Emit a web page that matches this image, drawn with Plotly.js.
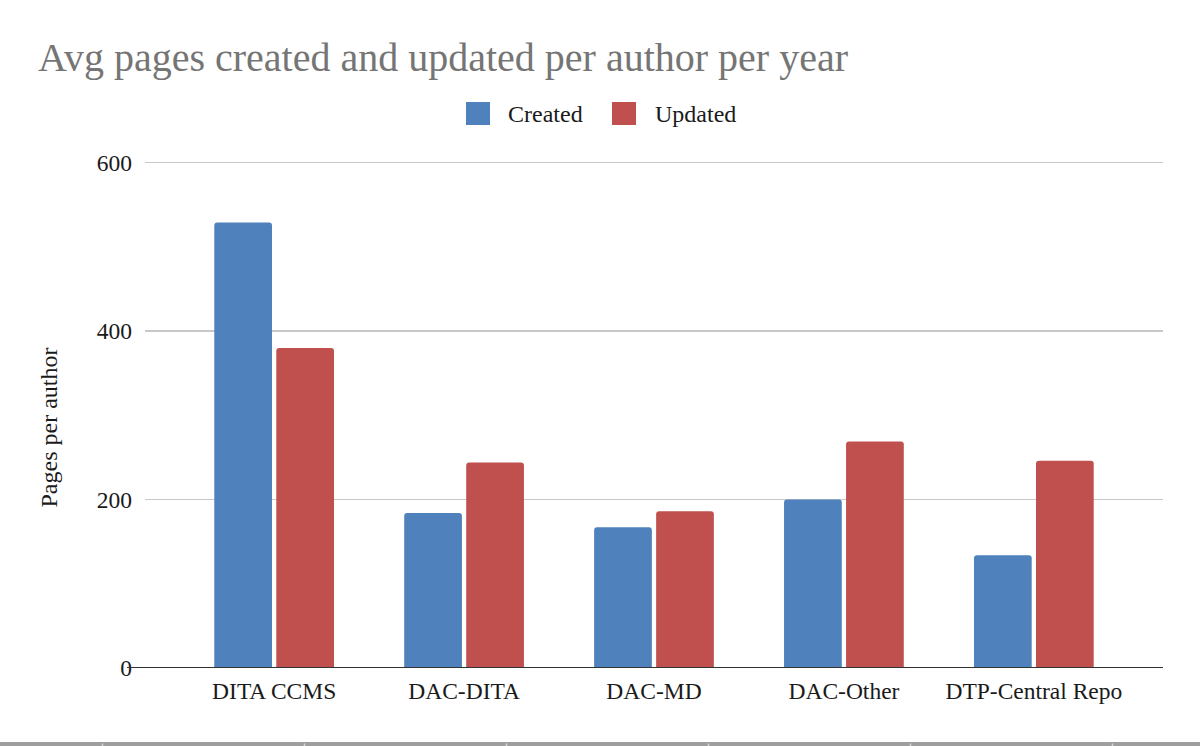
<!DOCTYPE html>
<html>
<head>
<meta charset="utf-8">
<script src="https://cdn.plot.ly/plotly-3.0.1.min.js"></script>
<style>
  html, body { margin: 0; padding: 0; background: #ffffff; }
  #chart { width: 1200px; height: 746px; }
</style>
</head>
<body>
<div id="chart"></div>
<script>
// ---- data ----
const categories = ["DITA CCMS", "DAC-DITA", "DAC-MD", "DAC-Other", "DTP-Central Repo"];
const createdValues = [529, 184, 167, 200, 134];
const updatedValues = [380, 244, 186, 269, 246];
const seriesNames = ["Created", "Updated"];
const yTickValues = [0, 200, 400, 600];
const titleText = "Avg pages created and updated per author per year";
const yTitleText = "Pages per author";

// ---- layout helpers ----
const W = 1200, H = 746;
const M = { l: 145, r: 37, t: 161, b: 78 };
const PW = W - M.l - M.r, PH = H - M.t - M.b;
const px = X => (X - M.l) / PW;          // pixel x -> paper x
const py = Y => (H - M.b - Y) / PH;      // pixel y -> paper y

const BLUE = "#4f81bd", RED = "#c0504d";
const FONT = "Liberation Serif, Times New Roman, serif";
const TXT = "#1a1a1a";

const traces = [
  { type: "bar", name: seriesNames[0], x: categories, y: createdValues,
    marker: { color: BLUE, cornerradius: 3, line: { width: 0 } }, hoverinfo: "x+y" },
  { type: "bar", name: seriesNames[1], x: categories, y: updatedValues,
    marker: { color: RED, cornerradius: 3, line: { width: 0 } }, hoverinfo: "x+y" }
];

const shapes = [
  // baseline (zero line) extending left of the grid
  { type: "line", xref: "paper", yref: "y", x0: px(127), x1: 1, y0: 0, y1: 0,
    line: { color: "#333333", width: 2.2 }, layer: "above" },
  // legend swatches
  { type: "rect", xref: "paper", yref: "paper", x0: px(466), x1: px(490), y0: py(125), y1: py(102),
    fillcolor: BLUE, line: { width: 0 } },
  { type: "rect", xref: "paper", yref: "paper", x0: px(612), x1: px(636), y0: py(125), y1: py(102),
    fillcolor: RED, line: { width: 0 } },
  // bottom sheet border band
  { type: "rect", xref: "paper", yref: "paper", x0: px(0), x1: px(1200), y0: py(746), y1: py(742),
    fillcolor: "#9e9e9e", line: { width: 0 } }
];
[102.5, 304.5, 506.5, 708.5, 910.5, 1112.5].forEach(X => {
  shapes.push({ type: "line", xref: "paper", yref: "paper", x0: px(X), x1: px(X), y0: py(746), y1: py(743.5),
    line: { color: "#d6d6d6", width: 1.5 } });
});

const annotations = [
  { xref: "paper", yref: "paper", x: px(506), y: py(113.5), xanchor: "left", yanchor: "middle",
    text: seriesNames[0], showarrow: false, font: { family: FONT, size: 24, color: TXT } },
  { xref: "paper", yref: "paper", x: px(653), y: py(113.5), xanchor: "left", yanchor: "middle",
    text: seriesNames[1], showarrow: false, font: { family: FONT, size: 24, color: TXT } },
  { xref: "paper", yref: "paper", x: px(48), y: py(427.5), xanchor: "center", yanchor: "middle",
    text: yTitleText, textangle: -90, showarrow: false, font: { family: FONT, size: 24, color: TXT } }
];

const layout = {
  width: W, height: H,
  margin: M,
  paper_bgcolor: "#ffffff", plot_bgcolor: "#ffffff",
  font: { family: FONT, size: 23.5, color: TXT },
  title: { text: titleText, xref: "container", yref: "container", x: 38 / W, xanchor: "left",
           y: 1 - 57 / H, yanchor: "middle", font: { family: FONT, size: 40, color: "#757575" } },
  showlegend: false,
  barmode: "group", bargap: 0.347, bargroupgap: 0.069,
  xaxis: { type: "category", range: [-0.68, 4.68], showgrid: false, zeroline: false, showline: false,
           ticks: "", tickfont: { family: FONT, size: 23.5, color: TXT }, ticklabelstandoff: 6,
           fixedrange: true },
  yaxis: { range: [0, 602], tickmode: "array", tickvals: yTickValues, ticktext: yTickValues.map(String),
           showgrid: true, gridcolor: "#c8c8c8", gridwidth: 1.6, zeroline: false, showline: false,
           ticks: "", ticklabelstandoff: 12, tickfont: { family: FONT, size: 23.5, color: TXT },
           fixedrange: true },
  shapes: shapes,
  annotations: annotations
};

Plotly.newPlot("chart", traces, layout, { displayModeBar: false, staticPlot: true });
</script>
</body>
</html>
